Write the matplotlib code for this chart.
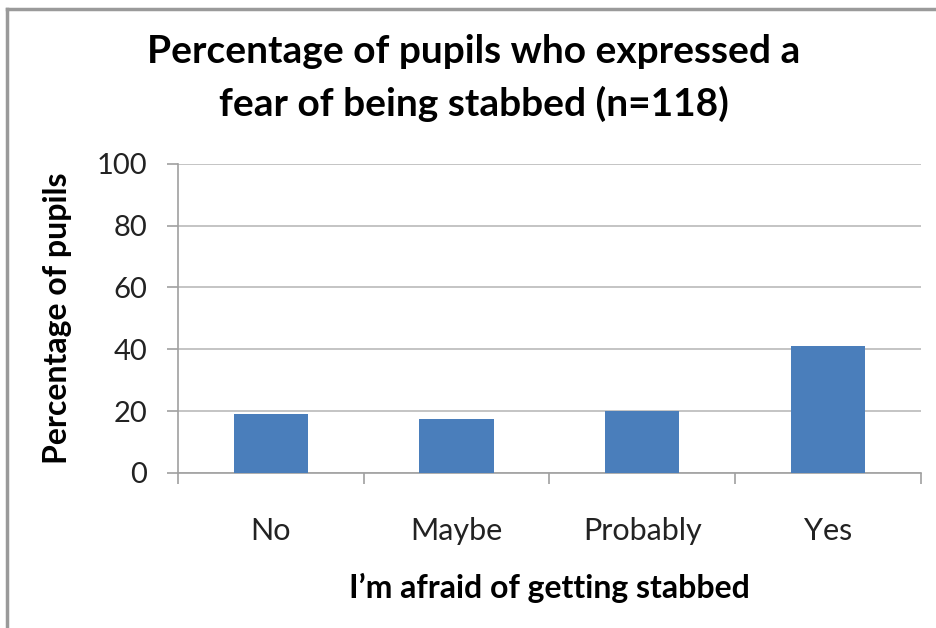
import matplotlib.pyplot as plt
from matplotlib.lines import Line2D
import numpy as np

# data
categories = ["No", "Maybe", "Probably", "Yes"]
percent = [19.2, 17.5, 20.0, 41.2]
yticks = [0, 20, 40, 60, 80, 100]

plt.rcParams["font.family"] = ["Lato", "DejaVu Sans"]

fig = plt.figure(figsize=(9.36, 6.28), dpi=100)
ax = fig.add_axes([0.190, 0.247, 0.794, 0.492])

x = np.arange(len(categories))
ax.bar(x, percent, width=0.4, color="#4a7ebb", zorder=3)

ax.set_xlim(-0.5, len(categories) - 0.5)
ax.set_ylim(0, 100)
ax.set_yticks(yticks)
ax.set_yticklabels([str(v) for v in yticks], fontsize=21, color="#222222")
ax.yaxis.grid(True, color="#c4c4c4", linewidth=1.4, zorder=0)

ax.set_xticks(x)
ax.set_xticklabels(categories, fontsize=22, color="#222222")
ax.tick_params(axis="x", which="major", length=0, pad=32)
ax.set_xticks(np.arange(-0.5, len(categories)), minor=True)
ax.tick_params(axis="x", which="minor", length=8, color="#a0a0a0", width=1.2)
ax.tick_params(axis="y", length=8, color="#a0a0a0", width=1.2, pad=14)

for side in ["top", "right"]:
    ax.spines[side].set_visible(False)
ax.spines["left"].set_color("#a0a0a0")
ax.spines["bottom"].set_color("#a0a0a0")
ax.spines["left"].set_linewidth(1.2)
ax.spines["bottom"].set_linewidth(1.2)

ax.set_ylabel("Percentage of pupils", fontsize=23, fontweight="bold", labelpad=18)
ax.set_xlabel("I\u2019m afraid of getting stabbed", fontsize=23, fontweight="bold", labelpad=20)

fig.text(0.506, 0.876, "Percentage of pupils who expressed a\nfear of being stabbed (n=118)",
         ha="center", va="center", fontsize=28, fontweight="bold", linespacing=1.55)

# outer frame (left and top only visible in reference)
fig.add_artist(Line2D([0.007, 0.007], [0.0, 0.986], transform=fig.transFigure, color="#9a9a9a", linewidth=2.5))
fig.add_artist(Line2D([0.007, 1.0], [0.986, 0.986], transform=fig.transFigure, color="#9a9a9a", linewidth=2.5))

fig.savefig("out.png", dpi=100)
